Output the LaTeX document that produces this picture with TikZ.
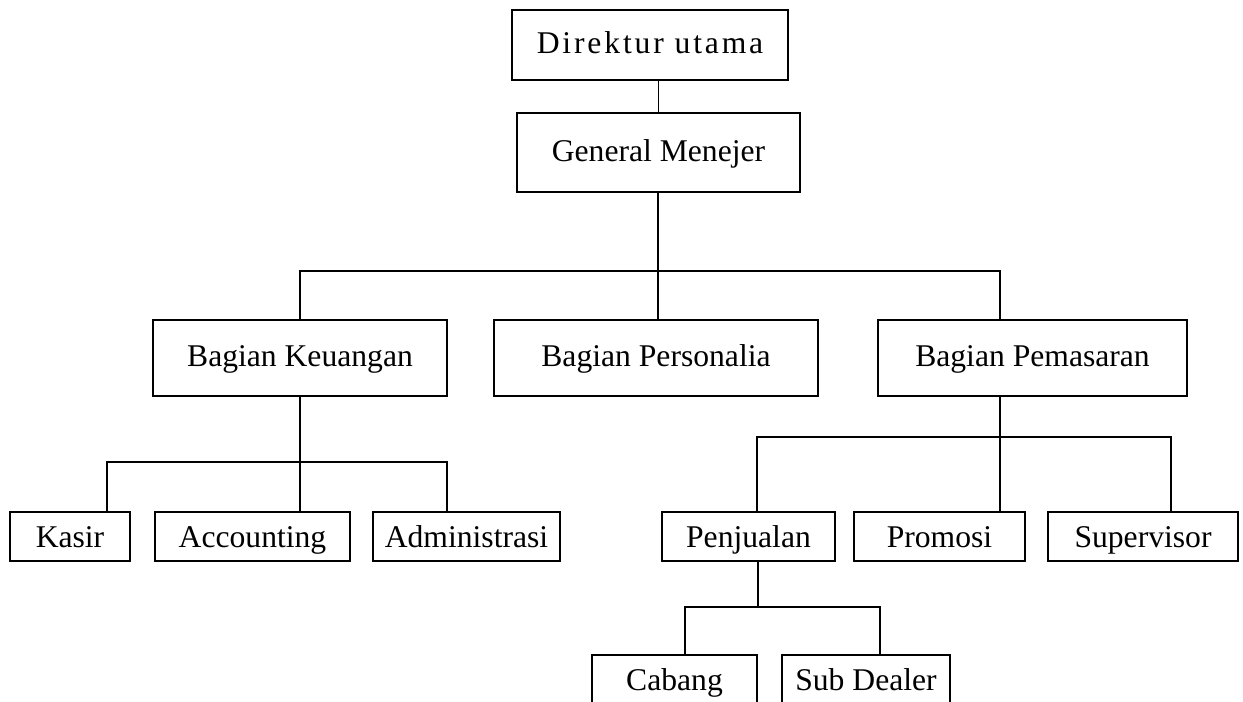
\documentclass[tikz,border=0pt]{standalone}
\usepackage{fontspec}
\setmainfont{Liberation Serif}
\usepackage{tikz}
\usetikzlibrary{positioning}
\tikzstyle{unit}=[rectangle,draw=black,fill=white,line width=0.8pt,inner sep=0pt,font=\fontsize{18}{20}\selectfont,text height=12pt,text depth=2pt]
\tikzstyle{smallunit}=[unit,text depth=0pt]
\tikzstyle{link} = [draw,line width=0.8pt]

\begin{document}
\begin{tikzpicture}[x=0.02cm, y=-0.02cm]

 \useasboundingbox (0,0) rectangle (1243,701);
 \clip (0,0) rectangle (1243,701);

 %top
   \node[unit, minimum width=276*0.02cm, minimum height=70*0.02cm, font=\fontsize{18}{20}\selectfont\addfontfeature{LetterSpace=9}] (dir) at (650, 45) {Direktur utama};
   \node[unit, minimum width=283*0.02cm, minimum height=79*0.02cm] (gm) at (658.5, 152.5) {General Menejer};

   \path[link] (dir.south -| gm.north) -- (gm.north);

 %bagian
   \foreach \x/\y/\w/\name/\label in {300/358/294/keu/Bagian Keuangan, 656/358/324/pers/Bagian Personalia, 1032.5/358/309/pem/Bagian Pemasaran}
          \node[unit, minimum width=\w*0.02cm, minimum height=76*0.02cm] (\name) at (\x, \y) {\label};

   \coordinate (gbus) at (658,271);
   \path[link] (gm.south -| gbus) -- (gbus);
   \foreach \dest/\cx in {keu/300, pers/658, pem/1000}
          \path[link] (gbus) -| (\dest.north -| \cx,0);

 %keuangan
   \foreach \x/\y/\w/\name/\label in {70/536.5/120/kasir/Kasir, 252.5/536.5/195/acc/Accounting, 466.5/536.5/187/adm/Administrasi}
          \node[smallunit, minimum width=\w*0.02cm, minimum height=49*0.02cm] (\name) at (\x, \y) {\label};

   \coordinate (kbus) at (300,462);
   \path[link] (keu.south -| kbus) -- (kbus);
   \foreach \dest/\cx in {kasir/107, acc/300, adm/447}
          \path[link] (kbus) -| (\dest.north -| \cx,0);

 %pemasaran
   \foreach \x/\y/\w/\name/\label in {748.5/536.5/173/jual/Penjualan, 939.5/536.5/171/promo/Promosi, 1143/536.5/190/super/Supervisor}
          \node[smallunit, minimum width=\w*0.02cm, minimum height=49*0.02cm] (\name) at (\x, \y) {\label};

   \coordinate (pbus) at (1000,437);
   \path[link] (pem.south -| pbus) -- (pbus);
   \foreach \dest/\cx in {jual/757, promo/1000, super/1171}
          \path[link] (pbus) -| (\dest.north -| \cx,0);

 %penjualan
   \foreach \x/\y/\w/\name/\label in {674.5/679.5/165/cabang/Cabang, 866/679.5/168/sub/Sub Dealer}
          \node[smallunit, minimum width=\w*0.02cm, minimum height=49*0.02cm] (\name) at (\x, \y) {\label};

   \coordinate (jbus) at (758,607);
   \path[link] (jual.south -| jbus) -- (jbus);
   \foreach \dest/\cx in {cabang/685, sub/880}
          \path[link] (jbus) -| (\dest.north -| \cx,0);

\end{tikzpicture}
\end{document}
